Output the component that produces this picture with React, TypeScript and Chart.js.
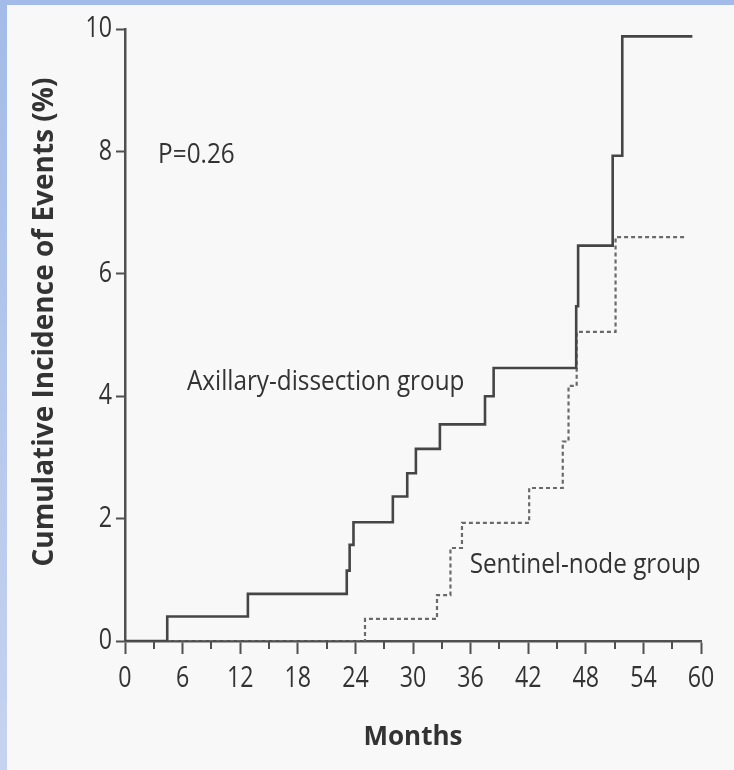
import React, { useEffect, useRef } from "react";
import { Chart, registerables } from "chart.js";

Chart.register(...registerables);

// Months at which the cumulative incidence steps up, and the level reached
const axillaryMonths = [0, 4.4, 12.8, 23.1, 23.4, 23.8, 27.9, 29.4, 30.3, 32.8, 37.5, 38.4, 47.0, 47.2, 50.8, 51.8, 59.1];
const axillaryValues = [0, 0.4, 0.77, 1.15, 1.57, 1.94, 2.36, 2.74, 3.14, 3.54, 4.0, 4.46, 5.47, 6.46, 7.93, 9.88, 9.88];

const sentinelMonths = [0, 25.0, 32.5, 33.9, 35.1, 42.1, 45.6, 46.2, 47.05, 51.1, 58.5];
const sentinelValues = [0, 0.36, 0.75, 1.52, 1.93, 2.5, 3.26, 4.17, 5.05, 6.6, 6.6];

const xTicks = [0, 6, 12, 18, 24, 30, 36, 42, 48, 54, 60];
const xMinorTicks = [3, 9, 15, 21, 27, 33, 39, 45, 51, 57];
const yTicks = [0, 2, 4, 6, 8, 10];

const yTitle = "Cumulative Incidence of Events (%)";
const xTitle = "Months";

const annotations = [
  { text: "P=0.26", x: 3.45, y: 7.94 },
  { text: "Axillary-dissection group", x: 6.45, y: 4.22 },
  { text: "Sentinel-node group", x: 35.9, y: 1.24 },
];

const AXIS_COLOR = "#505050";
const TEXT_COLOR = "#333333";
const SANS = "'Open Sans', 'Noto Sans', sans-serif";

const toPoints = (xs: number[], ys: number[]) => xs.map((x, i) => ({ x, y: ys[i] }));

function drawCondensed(ctx: any, text: string, x: number, y: number, sx: number) {
  ctx.save();
  ctx.translate(x, y);
  ctx.scale(sx, 1);
  ctx.fillText(text, 0, 0);
  ctx.restore();
}

const extrasPlugin = {
  id: "extras",
  afterDraw(chart: any) {
    const { ctx, chartArea } = chart;
    const xs = chart.scales.x;
    const ys = chart.scales.y;
    ctx.save();
    // minor x ticks
    ctx.strokeStyle = AXIS_COLOR;
    ctx.lineWidth = 2;
    const base = ys.getPixelForValue(0);
    xMinorTicks.forEach((v) => {
      const px = Math.round(xs.getPixelForValue(v));
      ctx.beginPath();
      ctx.moveTo(px, base);
      ctx.lineTo(px, base + 8);
      ctx.stroke();
    });
    ctx.fillStyle = TEXT_COLOR;
    // tick labels (condensed face)
    ctx.font = `29px ${SANS}`;
    ctx.textBaseline = "middle";
    ctx.textAlign = "center";
    xTicks.forEach((v) => {
      drawCondensed(ctx, String(v), xs.getPixelForValue(v), base + 38, 0.8);
    });
    ctx.textAlign = "right";
    yTicks.forEach((v) => {
      drawCondensed(ctx, String(v), chartArea.left - 13, ys.getPixelForValue(v), 0.8);
    });
    // annotations
    ctx.font = `27px ${SANS}`;
    ctx.textAlign = "left";
    annotations.forEach((a) => {
      drawCondensed(ctx, a.text, xs.getPixelForValue(a.x), ys.getPixelForValue(a.y), 0.9);
    });
    // y title
    ctx.font = `bold 28px ${SANS}`;
    ctx.textAlign = "center";
    ctx.save();
    ctx.translate(chartArea.left - 80, (chartArea.top + chartArea.bottom) / 2 - 13);
    ctx.rotate(-Math.PI / 2);
    ctx.fillText(yTitle, 0, 0);
    ctx.restore();
    ctx.restore();
  },
};

function ChartView() {
  const ref = useRef<HTMLCanvasElement | null>(null);
  useEffect(() => {
    if (!ref.current) return;
    const chart = new Chart(ref.current, {
      type: "line",
      data: {
        datasets: [
          {
            label: "Axillary-dissection group",
            data: toPoints(axillaryMonths, axillaryValues),
            borderColor: "#454545",
            borderWidth: 2.6,
            stepped: "before",
            pointRadius: 0,
            fill: false,
          },
          {
            label: "Sentinel-node group",
            data: toPoints(sentinelMonths, sentinelValues),
            borderColor: "#6a6a6a",
            borderWidth: 2.2,
            borderDash: [4, 3],
            stepped: "before",
            pointRadius: 0,
            fill: false,
          },
        ],
      },
      options: {
        responsive: false,
        animation: false,
        layout: { padding: { left: 0, top: 29, right: 33, bottom: 0 } },
        plugins: { legend: { display: false }, tooltip: { enabled: false } },
        scales: {
          x: {
            type: "linear",
            min: 0,
            max: 60,
            afterBuildTicks: (s: any) => {
              s.ticks = xTicks.map((v) => ({ value: v }));
            },
            afterFit: (s: any) => {
              s.height = 129;
            },
            ticks: { display: false },
            grid: {
              drawOnChartArea: false,
              drawTicks: true,
              tickLength: 13,
              tickWidth: 2,
              tickColor: AXIS_COLOR,
            },
            border: { display: true, color: AXIS_COLOR, width: 2.5 },
            title: {
              display: true,
              text: xTitle,
              color: TEXT_COLOR,
              font: { family: SANS, size: 26, weight: "bold" },
              padding: { top: 0, bottom: 17 },
            },
          },
          y: {
            type: "linear",
            min: 0,
            max: 10,
            afterBuildTicks: (s: any) => {
              s.ticks = yTicks.map((v) => ({ value: v }));
            },
            afterFit: (s: any) => {
              s.width = 125;
            },
            ticks: { display: false },
            grid: {
              drawOnChartArea: false,
              drawTicks: true,
              tickLength: 9,
              tickWidth: 2,
              tickColor: AXIS_COLOR,
            },
            border: { display: true, color: AXIS_COLOR, width: 2.5 },
            title: { display: false },
          },
        },
      },
      plugins: [extrasPlugin],
    });
    return () => chart.destroy();
  }, []);
  return <canvas ref={ref} width={734} height={770} style={{ position: "absolute", left: 0, top: 0 }} />;
}

export default function App() {
  return (
    <div
      style={{
        position: "fixed",
        left: 0,
        top: 0,
        width: 734,
        height: 770,
        background: "#f8f8f8",
        overflow: "hidden",
      }}
    >
      <div
        style={{
          position: "absolute",
          left: 0,
          top: 0,
          width: 734,
          height: 5,
          background: "#a3bbe8",
        }}
      />
      <div
        style={{
          position: "absolute",
          left: 0,
          top: 0,
          width: 7,
          height: 770,
          background: "linear-gradient(#a3bbe8, #c6d3f0)",
        }}
      />
      <ChartView />
    </div>
  );
}
